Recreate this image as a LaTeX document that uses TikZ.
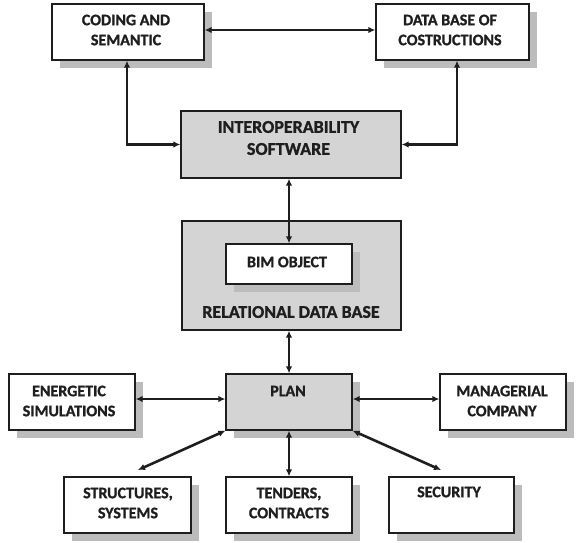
\documentclass[tikz,border=0pt]{standalone}
\usepackage{fontspec}
\setmainfont{Carlito}[BoldFeatures={FakeBold=1.2}]
\usetikzlibrary{arrows.meta,shadows}
\definecolor{boxgrey}{RGB}{212,212,212}
\definecolor{shadowgrey}{RGB}{188,188,188}
\definecolor{ink}{RGB}{30,30,30}
\tikzset{
  base/.style={draw=ink, line width=1.3pt, inner sep=0pt},
  whitebox/.style={base, fill=white,
    drop shadow={shadow xshift=8pt, shadow yshift=-8pt, fill=shadowgrey, opacity=1}},
  greybox/.style={base, fill=boxgrey},
  greyshadow/.style={base, fill=boxgrey,
    drop shadow={shadow xshift=8pt, shadow yshift=-8pt, fill=shadowgrey, opacity=1}},
  label/.style={align=center, inner sep=0pt, text=ink,
    font=\fontsize{16}{20}\selectfont\bfseries},
  biglabel/.style={label, font=\fontsize{18}{22}\selectfont\bfseries},
  link/.style={draw=ink, line width=2.6pt,
    {Latex[length=7pt,width=6.5pt]}-{Latex[length=7pt,width=6.5pt]}}
}
\begin{document}
\begin{tikzpicture}[x=1pt,y=-1pt]
\useasboundingbox (0,0) rectangle (576,543);
% boxes
\node[whitebox, minimum width=152pt, minimum height=56pt] (coding) at (128,32) {};
\node[whitebox, minimum width=153pt, minimum height=56pt] (database) at (452.5,32) {};
\node[greybox, minimum width=220pt, minimum height=67pt] (interop) at (291,144.5) {};
\node[greybox, minimum width=219pt, minimum height=109pt] (relational) at (291.5,275.5) {};
\node[whitebox, minimum width=126pt, minimum height=40pt] (bim) at (289,264) {};
\node[whitebox, minimum width=126pt, minimum height=56pt] (energetic) at (72,402) {};
\node[greyshadow, minimum width=126pt, minimum height=56pt] (plan) at (289,402) {};
\node[whitebox, minimum width=126pt, minimum height=56pt] (managerial) at (503,402) {};
\node[whitebox, minimum width=127pt, minimum height=56pt] (structures) at (127.5,505) {};
\node[whitebox, minimum width=126pt, minimum height=56pt] (tenders) at (289,505) {};
\node[whitebox, minimum width=125pt, minimum height=56pt] (security) at (451.5,505) {};
% texts
\node[label] (codingT) at (126,30) {CODING AND\\SEMANTIC};
\node[label] (databaseT) at (450,30) {DATA BASE OF\\COSTRUCTIONS};
\node[biglabel] (interopT) at (288.5,138) {INTEROPERABILITY\\SOFTWARE};
\node[biglabel] (relationalT) at (291,312) {RELATIONAL DATA BASE};
\node[label] (bimT) at (287,262) {BIM OBJECT};
\node[label] (energeticT) at (69,401) {ENERGETIC\\SIMULATIONS};
\node[label] (planT) at (288,391) {PLAN};
\node[label] (managerialT) at (502,401) {MANAGERIAL\\COMPANY};
\node[label] (structuresT) at (128,503) {STRUCTURES,\\SYSTEMS};
\node[label] (tendersT) at (289,503) {TENDERS,\\CONTRACTS};
\node[label] (securityT) at (449,492) {SECURITY};
\coordinate (strEnd) at (138,470);
\coordinate (secEnd) at (441,470);
% connectors
\draw[link] ([yshift=2pt]coding.east) -- ([yshift=2pt]database.west);
\draw[link] ([xshift=-1pt]coding.south) |- (interop.west);
\draw[link] ([xshift=4.5pt]database.south) |- (interop.east);
\draw[link] (interop.south -| bim.north) -- (bim.north);
\draw[link] (relational.south -| plan.north) -- (plan.north);
\draw[link] ([yshift=3pt]energetic.east) -- ([yshift=3pt]plan.west);
\draw[link] ([yshift=3pt]plan.east) -- ([yshift=3pt]managerial.west);
\draw[link] (plan.south west) -- (strEnd);
\draw[link] (plan.south) -- (tenders.north);
\draw[link] (plan.south east) -- (secEnd);
\end{tikzpicture}
\end{document}
